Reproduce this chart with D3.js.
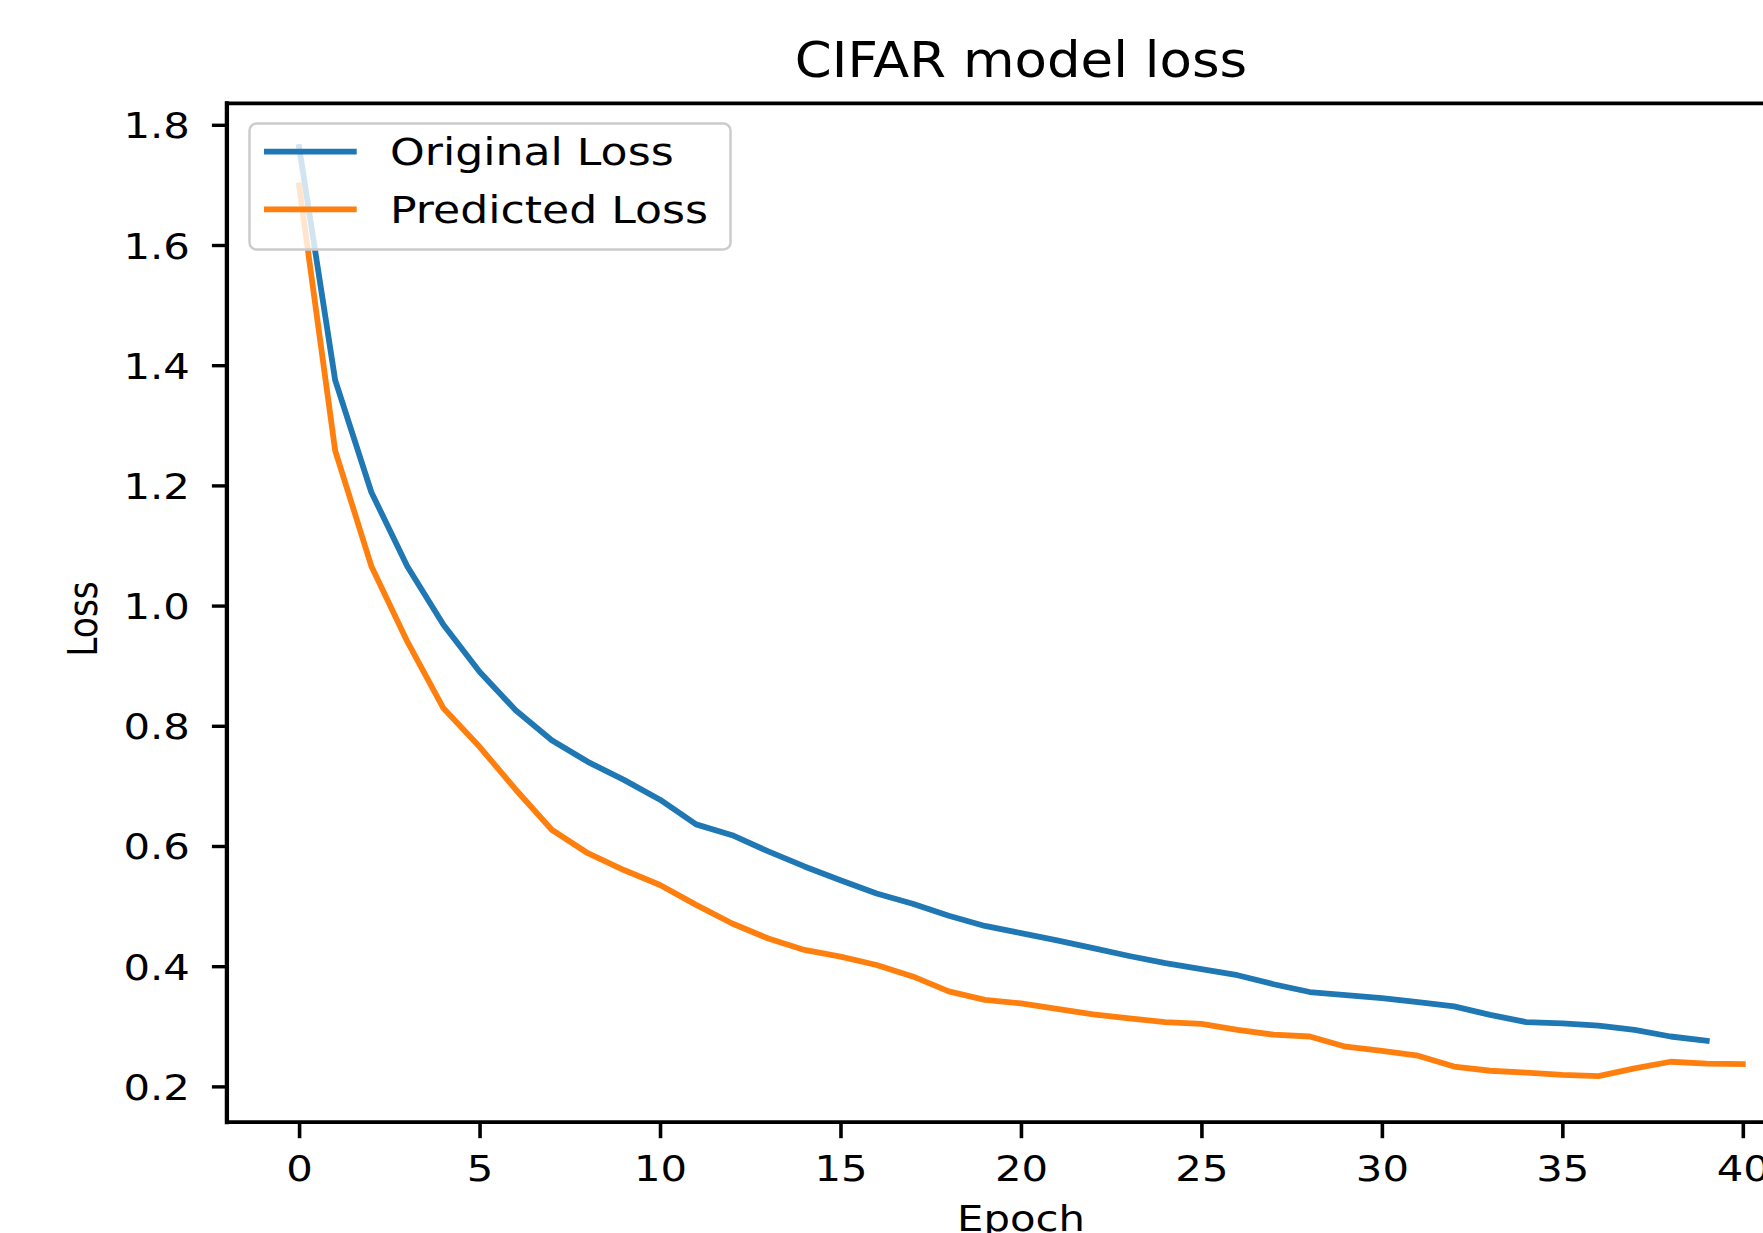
<!DOCTYPE html>
<html>
<head>
<meta charset="utf-8">
<script src="https://cdn.jsdelivr.net/npm/d3@7"></script>
<style>
  html, body { margin: 0; padding: 0; background: #fff; overflow: hidden; }
  svg { display: block; }
  text { font-family: "DejaVu Sans", sans-serif; fill: #000; }
</style>
</head>
<body>
<svg id="chart" width="1763" height="1233"></svg>
<script>
// ---- data ----
const chartTitle = "CIFAR model loss";
const xLabel = "Epoch";
const yLabel = "Loss";
const seriesNames = ["Original Loss", "Predicted Loss"];
const seriesColors = ["#1f77b4", "#ff7f0e"];
const originalLoss = [
  1.763, 1.375, 1.189, 1.065, 0.968, 0.890, 0.826, 0.776, 0.740, 0.710,
  0.677, 0.636, 0.618, 0.591, 0.566, 0.543, 0.521, 0.504, 0.484, 0.467,
  0.455, 0.443, 0.430, 0.417, 0.405, 0.395, 0.385, 0.370, 0.357, 0.352,
  0.347, 0.340, 0.333, 0.319, 0.307, 0.305, 0.301, 0.294, 0.283, 0.276
];
const predictedLoss = [
  1.699, 1.258, 1.066, 0.940, 0.829, 0.765, 0.694, 0.627, 0.588, 0.560,
  0.535, 0.502, 0.471, 0.446, 0.427, 0.416, 0.402, 0.383, 0.358, 0.344,
  0.338, 0.329, 0.320, 0.313, 0.307, 0.304, 0.294, 0.286, 0.283, 0.266,
  0.259, 0.251, 0.233, 0.226, 0.223, 0.219, 0.217, 0.230, 0.241, 0.238,
  0.237
];
const xTicks = [0, 5, 10, 15, 20, 25, 30, 35, 40];
const yTicks = [0.2, 0.4, 0.6, 0.8, 1.0, 1.2, 1.4, 1.6, 1.8];

(function () {
  // ---- layout ----
  const SX = 1.16;           // horizontal stretch of the reference's small text
  const svg = d3.select("#chart");
  const pL = 226.9, pR = 1815, pT = 103.4, pB = 1122.2;

  const x = d3.scaleLinear().domain([-2, 42]).range([pL, pR]);
  const y = d3.scaleLinear().domain([0.1404, 1.8356]).range([pB, pT]);

  // ---- lines ----
  const line = d3.line().x((d, i) => x(i)).y(d => y(d));
  const plot = svg.append("g");
  [originalLoss, predictedLoss].forEach((vals, k) => {
    plot.append("path")
      .datum(vals)
      .attr("d", line)
      .attr("fill", "none")
      .attr("stroke", seriesColors[k])
      .attr("stroke-width", 5.8)
      .attr("stroke-linejoin", "round")
      .attr("stroke-linecap", "square");
  });

  // ---- axes ----
  const yAxis = d3.axisLeft(y).tickValues(yTicks).tickFormat(d3.format(".1f")).tickSize(15);
  const gy = svg.append("g").attr("transform", `translate(${pL},0)`).call(yAxis);
  gy.select(".domain").remove();
  gy.selectAll(".tick line").attr("stroke", "#000").attr("stroke-width", 3.4);
  gy.selectAll(".tick text")
    .attr("x", -37 / SX).attr("dy", null).attr("y", 13)
    .attr("transform", `scale(${SX},1)`)
    .attr("font-size", 36).attr("fill", "#000")
    .style("font-family", '"DejaVu Sans", sans-serif')
    .attr("text-anchor", "end");

  const xAxis = d3.axisBottom(x).tickValues(xTicks).tickFormat(d3.format("d")).tickSize(16);
  const gx = svg.append("g").attr("transform", `translate(0,${pB})`).call(xAxis);
  gx.select(".domain").remove();
  gx.selectAll(".tick line").attr("stroke", "#000").attr("stroke-width", 3.6);
  gx.selectAll(".tick text")
    .attr("x", 0).attr("dy", null).attr("y", 58.5)
    .attr("transform", `scale(${SX},1)`)
    .attr("font-size", 36).attr("fill", "#000")
    .style("font-family", '"DejaVu Sans", sans-serif')
    .attr("text-anchor", "middle");

  // spines
  const spines = svg.append("g").attr("stroke", "#000").attr("fill", "none").attr("stroke-linecap", "square");
  spines.append("line").attr("x1", pL).attr("x2", pL).attr("y1", pT).attr("y2", pB).attr("stroke-width", 4.3);
  spines.append("line").attr("x1", pL).attr("x2", pR).attr("y1", pT).attr("y2", pT).attr("stroke-width", 3.7);
  spines.append("line").attr("x1", pL).attr("x2", pR).attr("y1", pB).attr("y2", pB).attr("stroke-width", 3.7);
  spines.append("line").attr("x1", pR).attr("x2", pR).attr("y1", pT).attr("y2", pB).attr("stroke-width", 4.3);

  // ---- title and axis labels ----
  svg.append("text")
    .attr("transform", `translate(${(pL + pR) / 2},77) scale(1.06,1)`)
    .attr("text-anchor", "middle").attr("font-size", 50)
    .text(chartTitle);

  svg.append("text")
    .attr("transform", `translate(${(pL + pR) / 2},1231) scale(${SX},1)`)
    .attr("text-anchor", "middle").attr("font-size", 36)
    .text(xLabel);

  svg.append("text")
    .attr("transform", `translate(96.5,619) scale(1.2,1) rotate(-90)`)
    .attr("text-anchor", "middle").attr("font-size", 34.5)
    .text(yLabel);

  // ---- legend ----
  const lg = svg.append("g");
  lg.append("rect")
    .attr("x", 249.5).attr("y", 123.5).attr("width", 481).attr("height", 126)
    .attr("rx", 7).attr("ry", 7)
    .attr("fill", "#fff").attr("fill-opacity", 0.8)
    .attr("stroke", "#cccccc").attr("stroke-width", 2.5);
  const legendRows = [151.7, 209.3];
  seriesNames.forEach((name, k) => {
    lg.append("line")
      .attr("x1", 264).attr("x2", 356.7)
      .attr("y1", legendRows[k]).attr("y2", legendRows[k])
      .attr("stroke", seriesColors[k]).attr("stroke-width", 5.8);
    lg.append("text")
      .attr("transform", `translate(390,${legendRows[k] + 13.3}) scale(1.21,1)`)
      .attr("font-size", 36.5)
      .text(name);
  });
})();
</script>
</body>
</html>
